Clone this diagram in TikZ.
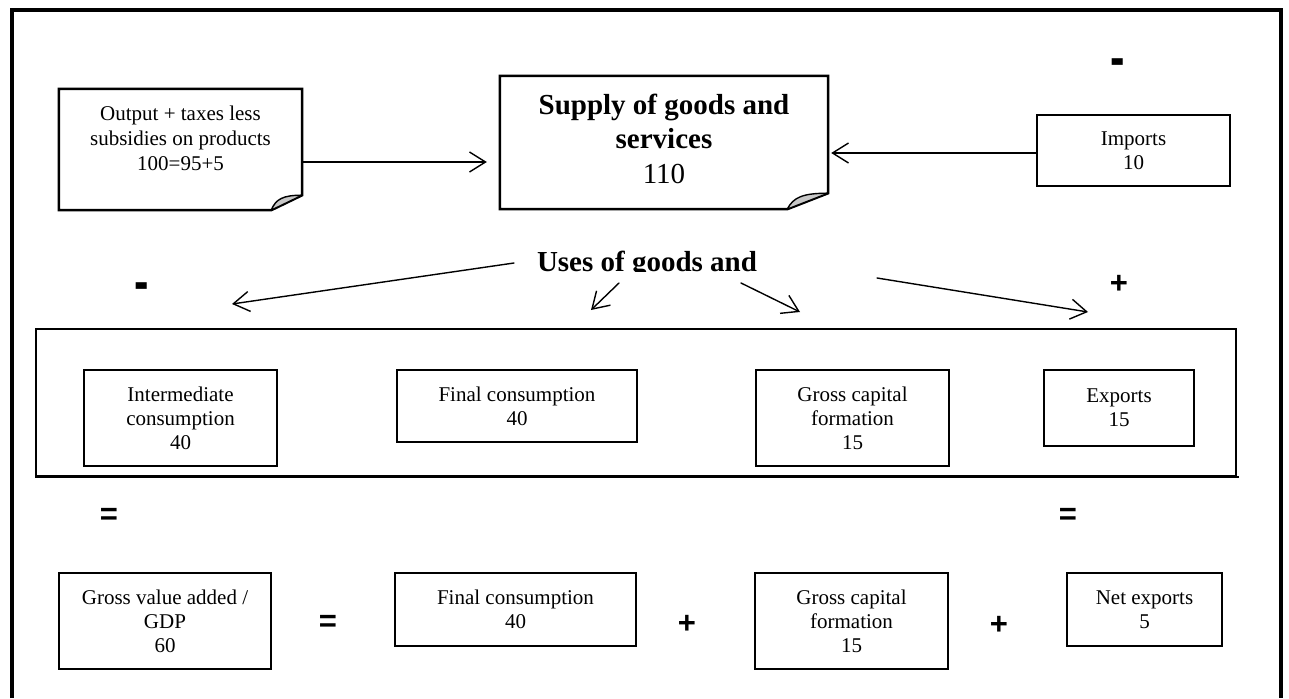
\documentclass[tikz,border=0pt]{standalone}
\usepackage{fontspec}
\setmainfont{Liberation Serif}
\newfontfamily\symfont{Liberation Sans}
\usetikzlibrary{arrows.meta,calc}
\tikzset{
  box/.style={draw, line width=2.5pt, rectangle, inner sep=0pt, align=center,
    font=\fontsize{21}{24}\selectfont},
  docbox/.style={rectangle, inner sep=0pt},
  doctext/.style={align=center, inner sep=0pt, anchor=north},
  arr/.style={line width=1.4pt, line cap=round,
    -{Straight Barb[length=16pt,width=20pt,line width=1.4pt]}},
  sym/.style={font=\symfont\bfseries\fontsize{31}{31}\selectfont, inner sep=0pt},
  frameline/.style={line width=4pt},
  curl/.style={fill=black!22, line width=1.4pt, line join=round},
  foldline/.style={line width=2.5pt, line join=miter},
}
\newcommand\foldedoutline[3]{%
  \draw[foldline] ($(#1.south east)+(-#2,0)$) -- (#1.south west) -- (#1.north west)
    -- (#1.north east) -- ($(#1.south east)+(0,-#3)$) -- cycle;
  \filldraw[curl] ($(#1.south east)+(-#2,0)$)
    .. controls ($(#1.south east)+(-0.85*#2,-0.75*#3)$) and ($(#1.south east)+(-0.62*#2,-1.0*#3)$)
    .. ($(#1.south east)+(0,-#3)$) -- cycle;
}
\begin{document}
\begin{tikzpicture}[x=1pt,y=-1pt]
\useasboundingbox (0,0) rectangle (1289,698);
% outer frame (open at the bottom)
\draw[frameline] (12,698) -- (12,10.5) -- (1281,10.5) -- (1281,698);

% top row
\node[docbox, minimum width=243pt, minimum height=121pt] (outbox) at (180.5,149.5) {};
\foldedoutline{outbox}{31}{15}
\node[doctext, font=\fontsize{21}{25}\selectfont] (outtext) at (180.5,106)
  {Output + taxes less\\subsidies on products\\100=95+5};

\node[docbox, minimum width=328pt, minimum height=133pt] (supplybox) at (664,142.5) {};
\foldedoutline{supplybox}{41}{16}
\node[doctext, font=\fontsize{29}{34.5}\selectfont] (supplytext) at (664,93.5)
  {\textbf{Supply of goods and}\\\textbf{services}\\110};

\node[box, minimum width=193pt, minimum height=71pt] (imports) at (1133.5,150.5) {Imports\\10};

\draw[arr] ($(outbox.east)+(0,12.5)$) -- ($(supplybox.west)+(-13,19.5)$);
\draw[arr] ($(imports.west)+(0,2.5)$) -- ($(supplybox.east)+(3,10.5)$);

\node[sym] (minustop) at (1118,68) {\scalebox{1.4}[1.8]{-}};

% uses
\begin{scope}
  \clip (480,235) rectangle (820,271.5);
  \node[anchor=base, inner sep=0pt, font=\bfseries\fontsize{29}{34}\selectfont] (uses) at (647,271.5) {Uses of goods and};
\end{scope}
\coordinate (u1) at (514,263);
\coordinate (u2) at (619,283);
\coordinate (u3) at (741,283);
\coordinate (u4) at (877,278);
\coordinate (t1) at (232,304);
\coordinate (t2) at (591,310);
\coordinate (t3) at (800,312);
\coordinate (t4) at (1088,312);
\draw[arr] (u1) -- (t1);
\draw[arr] (u2) -- (t2);
\draw[arr] (u3) -- (t3);
\draw[arr] (u4) -- (t4);
\node[sym] (minusleft) at (142,292) {\scalebox{1.4}[1.8]{-}};
\node[sym] (plustop) at (1119,284) {+};

% middle frame and boxes
\node[draw, line width=1.5pt, minimum width=1200pt, minimum height=147pt, inner sep=0pt] (usesframe) at (636,402.5) {};
\draw[line width=2.3pt] (usesframe.south west) -- ($(usesframe.south east)+(2,0)$);

\node[box, minimum width=193pt, minimum height=96pt] (ic) at (180.5,418) {Intermediate\\consumption\\40};
\node[box, minimum width=240pt, minimum height=72pt] (fc1) at (517,406) {Final consumption\\40};
\node[box, minimum width=193pt, minimum height=96pt] (gcf1) at (852.5,418) {Gross capital\\formation\\15};
\node[box, minimum width=150pt, minimum height=76pt] (exp) at (1119,408) {Exports\\15};

% equals
\node[sym] (eqleft) at (109,516) {=};
\node[sym] (eqright) at (1068,516) {=};

% bottom row
\node[box, minimum width=212pt, minimum height=96pt] (gva) at (165,621) {Gross value added /\\GDP\\60};
\node[sym] (eqmid) at (328,623) {=};
\node[box, minimum width=241pt, minimum height=73pt] (fc2) at (515.5,609.5) {Final consumption\\40};
\node[sym] (plus1) at (687,624) {+};
\node[box, minimum width=193pt, minimum height=96pt] (gcf2) at (851.5,621) {Gross capital\\formation\\15};
\node[sym] (plus2) at (999,625) {+};
\node[box, minimum width=155pt, minimum height=73pt] (nx) at (1144.5,609.5) {Net exports\\5};
\end{tikzpicture}
\end{document}
